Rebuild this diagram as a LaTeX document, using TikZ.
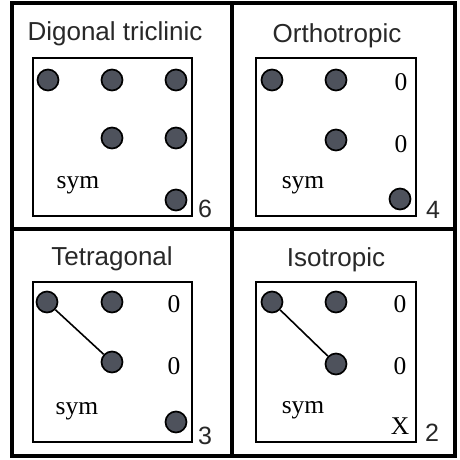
\documentclass[tikz,border=0pt]{standalone}
\usepackage{fontspec}
\setmainfont{Liberation Serif}
\newfontfamily\labelfont{Liberation Sans}
\begin{document}
\begin{tikzpicture}[x=1pt,y=-1pt,
  frame/.style={draw=black,line width=3.2pt},
  matbox/.style={draw=black,line width=1.8pt},
  coef/.style={circle,draw=black,line width=1.7pt,fill=dotgray,
    minimum size=21pt,inner sep=0pt},
  title/.style={anchor=base,text=titlegray,font=\labelfont\fontsize{26}{30}\selectfont,inner sep=0pt},
  count/.style={anchor=base,text=titlegray,font=\labelfont\fontsize{25}{30}\selectfont,inner sep=0pt},
  entry/.style={anchor=base,font=\fontsize{25.5}{30}\selectfont,inner sep=0pt},
  tie/.style={draw=black,line width=1.6pt}]
\definecolor{dotgray}{RGB}{78,82,92}
\definecolor{titlegray}{RGB}{40,40,40}
\useasboundingbox (0,0) rectangle (459,460);
\fill[white] (0,0) rectangle (459,460);

% outer frame and cell dividers
\draw[frame] (12,3) rectangle (455,456);
\draw[frame] (232,3) -- (232,456);
\draw[frame] (12,229) -- (455,229);

% ---- Digonal triclinic ----
\node[title] (t1) at (115,41) {Digonal triclinic};
\draw[matbox] (33,58) rectangle (192,216);
\node[coef] (a11) at (48,80) {};
\node[coef] (a12) at (112,80) {};
\node[coef] (a13) at (176,80) {};
\node[coef] (a22) at (112,138) {};
\node[coef] (a23) at (176,138) {};
\node[coef] (a33) at (176,200) {};
\node[entry] (s1) at (78,188) {sym};
\node[count] (n1) at (205,217) {6};

% ---- Orthotropic ----
\node[title] (t2) at (337,42) {Orthotropic};
\draw[matbox] (256,58) rectangle (416,216);
\node[coef] (b11) at (272,80) {};
\node[coef] (b12) at (336,80) {};
\node[entry] (b13) at (401,90) {0};
\node[coef] (b22) at (336,140) {};
\node[entry] (b23) at (401,152) {0};
\node[coef] (b33) at (400,199) {};
\node[entry] (s2) at (303,188) {sym};
\node[count] (n2) at (433,218) {4};

% ---- Tetragonal ----
\node[title] (t3) at (112,265) {Tetragonal};
\draw[matbox] (33,282) rectangle (192,442);
\node[coef] (c11) at (47,302) {};
\node[coef] (c12) at (112,302) {};
\node[entry] (c13) at (174,312) {0};
\node[coef] (c22) at (112,362) {};
\node[entry] (c23) at (174,374) {0};
\node[coef] (c33) at (176,422) {};
\node[entry] (s3) at (77,414) {sym};
\node[count] (n3) at (205,444) {3};
\draw[tie] (c11) -- (c22);

% ---- Isotropic ----
\node[title] (t4) at (336,266) {Isotropic};
\draw[matbox] (256,282) rectangle (416,442);
\node[coef] (d11) at (272,302) {};
\node[coef] (d12) at (336,302) {};
\node[entry] (d13) at (400,312) {0};
\node[coef] (d22) at (336,364) {};
\node[entry] (d23) at (400,374) {0};
\node[entry] (d33) at (400,434) {X};
\node[entry] (s4) at (303,413) {sym};
\node[count] (n4) at (432,441) {2};
\draw[tie] (d11) -- (d22);
\end{tikzpicture}
\end{document}
